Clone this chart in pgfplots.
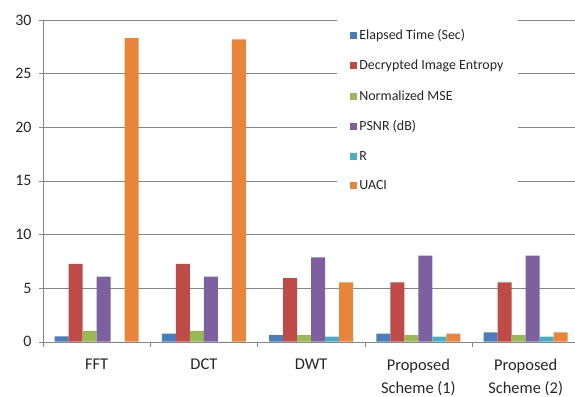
\documentclass[border=0pt]{standalone}
\usepackage{pgfplots}
\pgfplotsset{compat=1.18}
\usepackage{pgfplotstable}
\usepackage{fontspec}
\setmainfont{Carlito}
\definecolor{cBlue}{HTML}{4A7EBB}
\definecolor{cRed}{HTML}{BE4B48}
\definecolor{cGreen}{HTML}{98B954}
\definecolor{cPurple}{HTML}{7D60A0}
\definecolor{cAqua}{HTML}{4BACC6}
\definecolor{cOrange}{HTML}{E8853A}
\definecolor{cAxis}{HTML}{868686}
\definecolor{cText}{HTML}{262626}
\pgfplotstableread{
x et de nmse psnr r uaci
0 0.50 7.25 1.00 6.06 0.00 28.30
1 0.75 7.25 1.00 6.06 0.00 28.20
2 0.62 5.94 0.62 7.87 0.47 5.54
3 0.75 5.54 0.62 8.02 0.47 0.75
4 0.87 5.54 0.62 8.02 0.47 0.87
}\datatable
\begin{document}
\begin{tikzpicture}
\path[use as bounding box] (-43bp,-55.3bp) rectangle (532bp,341.7bp);
\begin{axis}[
  at={(0,0)}, anchor=south west,
  scale only axis,
  width=532bp, height=321.7bp,
  ybar=0pt, bar width=14bp,
  xmin=-0.5, xmax=4.46,
  ymin=0, ymax=30,
  ytick={0,5,...,30},
  xtick={0,1,2,3,4},
  xticklabels={FFT,DCT,DWT,{Proposed\\Scheme (1)},{Proposed\\Scheme (2)}},
  minor xtick={-0.5,0.5,1.5,2.5,3.5},
  xtick style={draw=none},
  minor x tick style={draw=cAxis, thin},
  ytick style={draw=cAxis, thin},
  major tick length=4bp, minor tick length=5bp,
  tick align=outside,
  axis x line*=bottom, axis y line*=left,
  axis line style={draw=cAxis, thin, -},
  ymajorgrids, major grid style={draw=cAxis, thin},
  /pgf/number format/assume math mode=true,
  tick label style={font=\fontsize{16}{19}\selectfont, text=cText},
  xticklabel style={align=center, font=\fontsize{16.5}{22.5}\selectfont, yshift=-10bp},
  yticklabel style={xshift=-4bp},
  legend style={at={(0.553,1.005)}, anchor=north west, draw=none, fill=white,
    font=\fontsize{14}{16}\selectfont, text=cText,
    row sep=15bp, inner xsep=13bp, inner ysep=9bp,
    /tikz/every even column/.append style={column sep=2bp}},
  legend cell align=left,
  legend image code/.code={\fill[#1] (0bp,-3.5bp) rectangle (7bp,3.5bp);},
]
\addplot[fill=cBlue, draw=none] table[x=x, y=et] {\datatable};
\addplot[fill=cRed, draw=none] table[x=x, y=de] {\datatable};
\addplot[fill=cGreen, draw=none] table[x=x, y=nmse] {\datatable};
\addplot[fill=cPurple, draw=none] table[x=x, y=psnr] {\datatable};
\addplot[fill=cAqua, draw=none] table[x=x, y=r] {\datatable};
\addplot[fill=cOrange, draw=none] table[x=x, y=uaci] {\datatable};
\legend{Elapsed Time (Sec),Decrypted Image Entropy,Normalized MSE,PSNR (dB),R,UACI}
\end{axis}
\end{tikzpicture}
\end{document}
